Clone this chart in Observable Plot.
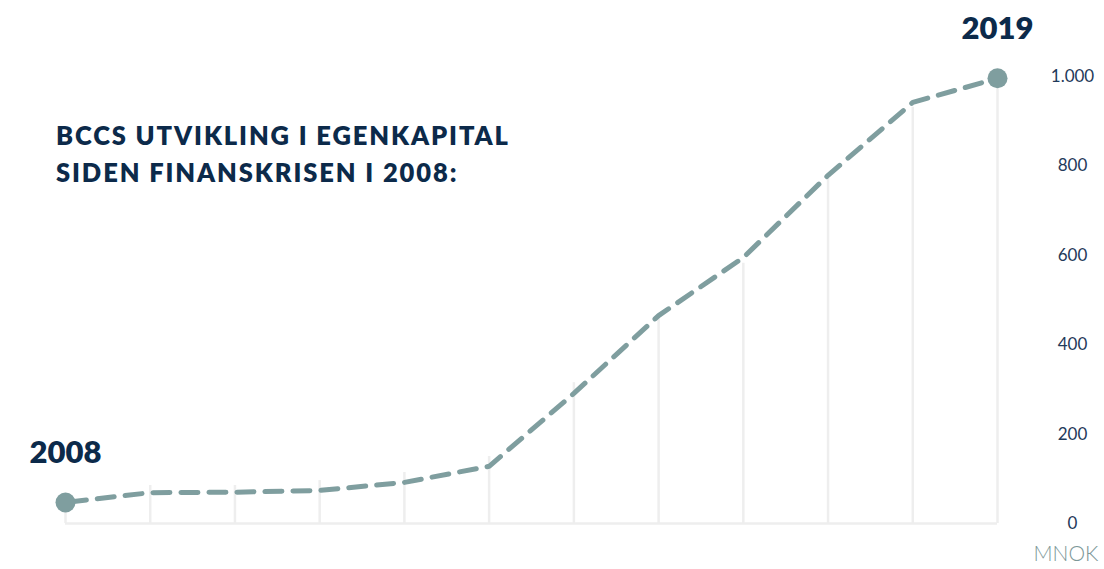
<!DOCTYPE html>
<html>
<head>
<meta charset="utf-8">
<script src="https://cdn.jsdelivr.net/npm/d3@7"></script>
<script src="https://cdn.jsdelivr.net/npm/@observablehq/plot@0.6"></script>
<style>
  html, body { margin: 0; padding: 0; background: #ffffff; }
  #wrap { position: relative; width: 1104px; height: 569px; overflow: hidden; }
  #title {
    position: absolute; left: 56px; top: 117px;
    font-family: Lato, sans-serif; font-weight: 800;
    font-size: 25.5px; line-height: 37px; color: #0c2a4a; white-space: nowrap;
    letter-spacing: 1.9px;
  }
  #title span { display: block; }
  svg { display: block; }
</style>
</head>
<body>
<div id="wrap">
  <div id="chart"></div>
  <div id="title"><span>BCCS UTVIKLING I EGENKAPITAL</span><span>SIDEN FINANSKRISEN I 2008:</span></div>
</div>
<script>
const years = [2008, 2009, 2010, 2011, 2012, 2013, 2014, 2015, 2016, 2017, 2018, 2019];
const equity = [47, 69, 70, 74, 92, 128, 291, 465, 595, 779, 942, 996];
const gridTops = [47, 85, 85, 96, 114, 150, 315, 459, 582, 772, 931, 996];
const yTicks = [0, 200, 400, 600, 800, 1000];
const yTickLabels = ["0", "200", "400", "600", "800", "1.000"];
const unitLabel = "MNOK";

const rows = years.map((y, i) => ({year: y, value: equity[i], top: gridTops[i]}));
const ends = [rows[0], rows[rows.length - 1]];

const lineColor = "#7f9e9f";
const navy = "#0c2a4a";

const chart = Plot.plot({
  width: 1104,
  height: 569,
  marginLeft: 65,
  marginRight: 107,
  marginTop: 76,
  marginBottom: 46,
  style: {fontFamily: "Lato, 'Open Sans', sans-serif", fontSize: "16px", background: "#ffffff"},
  x: {domain: [years[0], years[years.length - 1]], axis: null},
  y: {domain: [0, 1000], axis: null},
  marks: [
    Plot.ruleX(rows, {x: "year", y1: 0, y2: "top", stroke: "#eeeeee", strokeWidth: 2.5}),
    Plot.ruleY([0], {x1: years[0], x2: years[years.length - 1], stroke: "#eeeeee", strokeWidth: 2.5}),
    Plot.line(rows, {x: "year", y: "value", stroke: lineColor, strokeWidth: 5, strokeDasharray: "17,11", strokeDashoffset: -4}),
    Plot.dot(ends, {x: "year", y: "value", r: 10, fill: lineColor, stroke: null}),
    Plot.text(ends, {x: "year", y: "value", text: d => String(d.year), dy: -49, fontSize: 31, fontWeight: 800, fill: navy, letterSpacing: "2.2px"}),
    Plot.axisY(yTicks, {anchor: "right", tickSize: 0, tickPadding: 0, dx: 75, textAnchor: "middle",
      tickFormat: (d) => yTickLabels[yTicks.indexOf(d)], color: "#1f3a5a", fontSize: 17, letterSpacing: "0.8px", label: null}),
    Plot.text([unitLabel], {frameAnchor: "bottom-right", dx: 36, dy: 37, textAnchor: "start", fontSize: 21,
      fontWeight: 300, fill: "#7d9898", letterSpacing: "1.8px"})
  ]
});
document.getElementById("chart").appendChild(chart);
</script>
</body>
</html>
